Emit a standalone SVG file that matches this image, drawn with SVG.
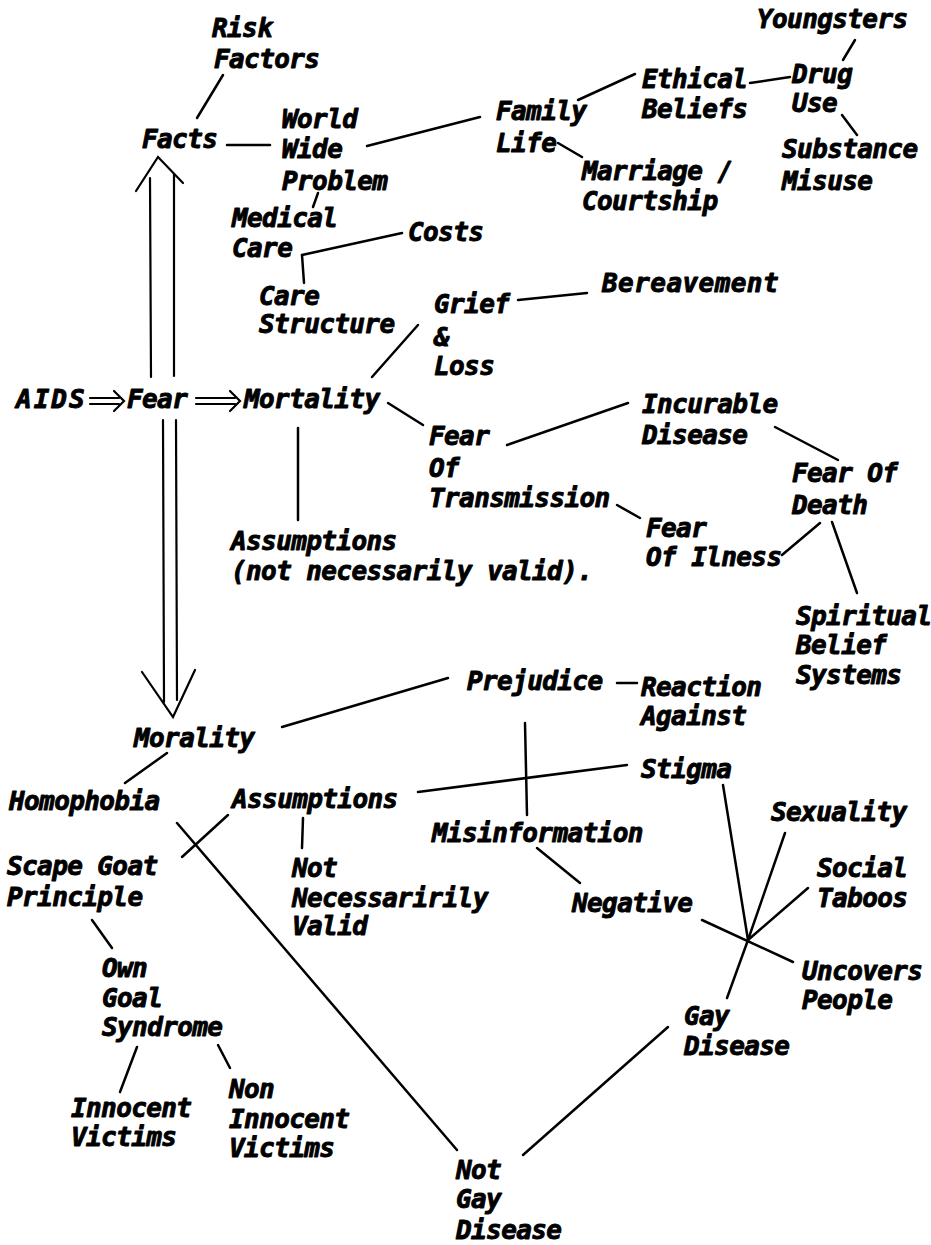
<svg xmlns="http://www.w3.org/2000/svg" width="931" height="1245" viewBox="0 0 931 1245">
  <style>
    .lbl { font-family: "DejaVu Sans Mono", "Liberation Mono", monospace; font-size: 26px; letter-spacing: -0.6px; font-weight: bold; font-style: italic; fill: #000; stroke: #000; stroke-width: 0.9; stroke-linejoin: round; }
    .ln { stroke: #000; stroke-width: 2.5; stroke-linecap: round; fill: none; }
    .ar { stroke: #000; stroke-width: 2.2; stroke-linecap: round; stroke-linejoin: miter; fill: none; }
  </style>
  <rect width="931" height="1245" fill="#fff"/>

  <!-- connectors -->
  <g id="connectors">
    <line class="ln" x1="223" y1="75" x2="197" y2="118"/>
    <line class="ln" x1="227" y1="145" x2="270" y2="145"/>
    <line class="ln" x1="367" y1="146" x2="480" y2="117"/>
    <line class="ln" x1="318" y1="193" x2="313" y2="207"/>
    <line class="ln" x1="302" y1="255" x2="402" y2="233"/>
    <line class="ln" x1="302" y1="255" x2="304" y2="283"/>
    <line class="ln" x1="372" y1="377" x2="418" y2="325"/>
    <line class="ln" x1="518" y1="300" x2="587" y2="293"/>
    <line class="ln" x1="578" y1="100" x2="635" y2="74"/>
    <line class="ln" x1="750" y1="83" x2="790" y2="77"/>
    <line class="ln" x1="855" y1="40" x2="843" y2="60"/>
    <line class="ln" x1="842" y1="115" x2="857" y2="135"/>
    <line class="ln" x1="558" y1="143" x2="582" y2="157"/>
    <line class="ln" x1="388" y1="403" x2="423" y2="425"/>
    <line class="ln" x1="298" y1="428" x2="298" y2="520"/>
    <line class="ln" x1="507" y1="445" x2="628" y2="403"/>
    <line class="ln" x1="775" y1="427" x2="838" y2="460"/>
    <line class="ln" x1="617" y1="505" x2="640" y2="518"/>
    <line class="ln" x1="782" y1="555" x2="820" y2="523"/>
    <line class="ln" x1="832" y1="522" x2="857" y2="593"/>
    <line class="ln" x1="282" y1="727" x2="448" y2="678"/>
    <line class="ln" x1="617" y1="683" x2="637" y2="683"/>
    <line class="ln" x1="525" y1="723" x2="527" y2="815"/>
    <line class="ln" x1="418" y1="792" x2="627" y2="765"/>
    <line class="ln" x1="537" y1="848" x2="580" y2="883"/>
    <line class="ln" x1="723" y1="785" x2="748" y2="940"/>
    <line class="ln" x1="785" y1="833" x2="748" y2="940"/>
    <line class="ln" x1="808" y1="888" x2="748" y2="940"/>
    <line class="ln" x1="702" y1="920" x2="793" y2="962"/>
    <line class="ln" x1="748" y1="940" x2="727" y2="998"/>
    <line class="ln" x1="668" y1="1027" x2="523" y2="1155"/>
    <line class="ln" x1="167" y1="753" x2="125" y2="783"/>
    <line class="ln" x1="177" y1="823" x2="457" y2="1150"/>
    <line class="ln" x1="228" y1="815" x2="182" y2="857"/>
    <line class="ln" x1="303" y1="818" x2="302" y2="848"/>
    <line class="ln" x1="92" y1="920" x2="112" y2="948"/>
    <line class="ln" x1="137" y1="1047" x2="120" y2="1092"/>
    <line class="ln" x1="218" y1="1045" x2="230" y2="1068"/>

    <!-- double-shafted arrows -->
    <g id="arrow-aids-fear">
      <line class="ar" x1="90" y1="398" x2="119" y2="398"/>
      <line class="ar" x1="90" y1="404" x2="119" y2="404"/>
      <polyline class="ar" points="114,391 124,401 114,411"/>
    </g>
    <g id="arrow-fear-mortality">
      <line class="ar" x1="196" y1="398" x2="235" y2="398"/>
      <line class="ar" x1="196" y1="404" x2="235" y2="404"/>
      <polyline class="ar" points="230,391 240,401 230,411"/>
    </g>
    <g id="arrow-fear-facts">
      <line class="ar" x1="150" y1="178" x2="151" y2="377"/>
      <line class="ar" x1="174" y1="174" x2="174" y2="376"/>
      <polyline class="ar" points="136,191 158,157 183,183"/>
    </g>
    <g id="arrow-fear-morality">
      <line class="ar" x1="163" y1="420" x2="164" y2="702"/>
      <line class="ar" x1="176" y1="420" x2="177" y2="700"/>
      <polyline class="ar" points="142,672 173,717 195,670"/>
    </g>
  </g>

  <!-- nodes -->
  <g id="risk-factors"><text class="lbl"><tspan x="212" y="37">Risk</tspan><tspan x="214" y="68">Factors</tspan></text></g>
  <g id="facts"><text class="lbl" x="142" y="148">Facts</text></g>
  <g id="world-wide-problem"><text class="lbl"><tspan x="282" y="128">World</tspan><tspan x="282" y="158">Wide</tspan><tspan x="282" y="190">Problem</tspan></text></g>
  <g id="medical-care"><text class="lbl"><tspan x="232" y="227">Medical</tspan><tspan x="232" y="257">Care</tspan></text></g>
  <g id="costs"><text class="lbl" x="408" y="241">Costs</text></g>
  <g id="care-structure"><text class="lbl"><tspan x="259" y="305">Care</tspan><tspan x="259" y="333">Structure</tspan></text></g>
  <g id="grief-loss"><text class="lbl"><tspan x="434" y="313">Grief</tspan><tspan x="434" y="346">&amp;</tspan><tspan x="434" y="375">Loss</tspan></text></g>
  <g id="bereavement"><text class="lbl" x="602" y="292" textLength="176" lengthAdjust="spacing">Bereavement</text></g>
  <g id="aids"><text class="lbl" x="16" y="408" textLength="68" lengthAdjust="spacing">AIDS</text></g>
  <g id="fear"><text class="lbl" x="127" y="408">Fear</text></g>
  <g id="mortality"><text class="lbl" x="244" y="408">Mortality</text></g>
  <g id="family-life"><text class="lbl"><tspan x="496" y="120">Family</tspan><tspan x="496" y="152">Life</tspan></text></g>
  <g id="ethical-beliefs"><text class="lbl"><tspan x="642" y="88">Ethical</tspan><tspan x="642" y="118">Beliefs</tspan></text></g>
  <g id="youngsters"><text class="lbl" x="757" y="28">Youngsters</text></g>
  <g id="drug-use"><text class="lbl"><tspan x="792" y="83">Drug</tspan><tspan x="792" y="112">Use</tspan></text></g>
  <g id="substance-misuse"><text class="lbl"><tspan x="782" y="158">Substance</tspan><tspan x="782" y="190">Misuse</tspan></text></g>
  <g id="marriage-courtship"><text class="lbl"><tspan x="582" y="180">Marriage /</tspan><tspan x="582" y="210">Courtship</tspan></text></g>
  <g id="fear-of-transmission"><text class="lbl"><tspan x="429" y="445">Fear</tspan><tspan x="429" y="477">Of</tspan><tspan x="429" y="507">Transmission</tspan></text></g>
  <g id="assumptions-mortality"><text class="lbl"><tspan x="231" y="550">Assumptions</tspan><tspan x="231" y="580">(not necessarily valid).</tspan></text></g>
  <g id="incurable-disease"><text class="lbl"><tspan x="642" y="413">Incurable</tspan><tspan x="642" y="444">Disease</tspan></text></g>
  <g id="fear-of-death"><text class="lbl"><tspan x="792" y="482">Fear Of</tspan><tspan x="792" y="514">Death</tspan></text></g>
  <g id="fear-of-illness"><text class="lbl"><tspan x="646" y="537">Fear</tspan><tspan x="646" y="566">Of Ilness</tspan></text></g>
  <g id="spiritual-belief-systems"><text class="lbl"><tspan x="796" y="625">Spiritual</tspan><tspan x="796" y="654">Belief</tspan><tspan x="796" y="684">Systems</tspan></text></g>
  <g id="prejudice"><text class="lbl" x="467" y="690">Prejudice</text></g>
  <g id="reaction-against"><text class="lbl"><tspan x="641" y="696">Reaction</tspan><tspan x="641" y="725">Against</tspan></text></g>
  <g id="morality"><text class="lbl" x="134" y="747">Morality</text></g>
  <g id="homophobia"><text class="lbl" x="9" y="810">Homophobia</text></g>
  <g id="assumptions-morality"><text class="lbl" x="232" y="808">Assumptions</text></g>
  <g id="stigma"><text class="lbl" x="641" y="778">Stigma</text></g>
  <g id="misinformation"><text class="lbl" x="432" y="842">Misinformation</text></g>
  <g id="not-necessarily-valid"><text class="lbl"><tspan x="292" y="877">Not</tspan><tspan x="292" y="907">Necessaririly</tspan><tspan x="292" y="935">Valid</tspan></text></g>
  <g id="scape-goat-principle"><text class="lbl"><tspan x="7" y="875">Scape Goat</tspan><tspan x="7" y="906">Principle</tspan></text></g>
  <g id="own-goal-syndrome"><text class="lbl"><tspan x="102" y="977">Own</tspan><tspan x="102" y="1007">Goal</tspan><tspan x="102" y="1036">Syndrome</tspan></text></g>
  <g id="innocent-victims"><text class="lbl"><tspan x="71" y="1117">Innocent</tspan><tspan x="71" y="1146">Victims</tspan></text></g>
  <g id="non-innocent-victims"><text class="lbl"><tspan x="229" y="1098">Non</tspan><tspan x="229" y="1128">Innocent</tspan><tspan x="229" y="1157">Victims</tspan></text></g>
  <g id="negative"><text class="lbl" x="572" y="912">Negative</text></g>
  <g id="sexuality"><text class="lbl" x="771" y="821">Sexuality</text></g>
  <g id="social-taboos"><text class="lbl"><tspan x="817" y="877">Social</tspan><tspan x="817" y="907">Taboos</tspan></text></g>
  <g id="uncovers-people"><text class="lbl"><tspan x="802" y="980">Uncovers</tspan><tspan x="802" y="1009">People</tspan></text></g>
  <g id="gay-disease"><text class="lbl"><tspan x="684" y="1025">Gay</tspan><tspan x="684" y="1055">Disease</tspan></text></g>
  <g id="not-gay-disease"><text class="lbl"><tspan x="456" y="1179">Not</tspan><tspan x="456" y="1208">Gay</tspan><tspan x="456" y="1239">Disease</tspan></text></g>
</svg>
